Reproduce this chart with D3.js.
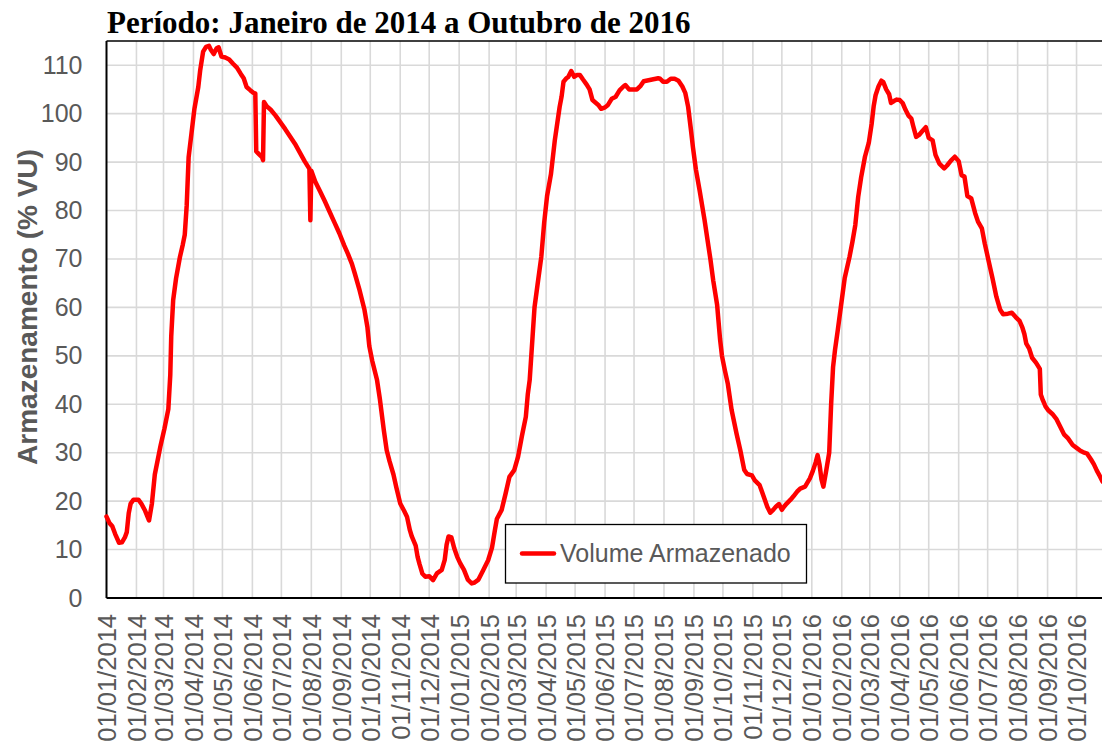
<!DOCTYPE html>
<html>
<head>
<meta charset="utf-8">
<script src="https://cdn.jsdelivr.net/npm/d3@7"></script>
<style>
  html, body { margin: 0; padding: 0; background: #ffffff; }
  svg { display: block; }
</style>
</head>
<body>
<svg id="chart" width="1102" height="745"></svg>
<script>
// ---- DATA ----
const titleText = "Período: Janeiro de 2014 a Outubro de 2016";
const yAxisTitle = "Armazenamento (% VU)";
const seriesName = "Volume Armazenado";

const dates = [
  "2014-01-01","2014-01-04","2014-01-07","2014-01-10","2014-01-14","2014-01-17","2014-01-20","2014-01-22","2014-01-24","2014-01-26",
  "2014-01-29","2014-02-03","2014-02-06","2014-02-10","2014-02-14","2014-02-17","2014-02-20","2014-02-23","2014-02-26","2014-03-02",
  "2014-03-06","2014-03-08","2014-03-09","2014-03-11","2014-03-14","2014-03-18","2014-03-21","2014-03-23","2014-03-25","2014-03-27",
  "2014-03-30","2014-04-02","2014-04-06","2014-04-08","2014-04-11","2014-04-14","2014-04-17","2014-04-19","2014-04-22","2014-04-25",
  "2014-04-27","2014-04-30","2014-05-04","2014-05-08","2014-05-12","2014-05-16","2014-05-20","2014-05-23","2014-05-26","2014-05-30",
  "2014-06-02","2014-06-04","2014-06-05","2014-06-08","2014-06-11","2014-06-12","2014-06-13","2014-06-16","2014-06-20","2014-06-25",
  "2014-06-30","2014-07-05","2014-07-10","2014-07-15","2014-07-20","2014-07-25","2014-07-30","2014-07-31","2014-08-01","2014-08-05",
  "2014-08-10","2014-08-15","2014-08-20","2014-08-25","2014-08-30","2014-09-04","2014-09-08","2014-09-12","2014-09-15","2014-09-20",
  "2014-09-25","2014-09-28","2014-09-30","2014-10-03","2014-10-08","2014-10-11","2014-10-15","2014-10-18","2014-10-21","2014-10-25",
  "2014-10-28","2014-11-01","2014-11-05","2014-11-08","2014-11-11","2014-11-13","2014-11-17","2014-11-19","2014-11-21","2014-11-24",
  "2014-11-27","2014-12-01","2014-12-05","2014-12-09","2014-12-14","2014-12-17","2014-12-19","2014-12-21","2014-12-24","2014-12-27",
  "2014-12-30","2015-01-02","2015-01-06","2015-01-10","2015-01-14","2015-01-17","2015-01-21","2015-01-26","2015-01-31","2015-02-04",
  "2015-02-07","2015-02-09","2015-02-14","2015-02-18","2015-02-22","2015-02-27","2015-03-03","2015-03-07","2015-03-11","2015-03-13",
  "2015-03-15","2015-03-18","2015-03-20","2015-03-23","2015-03-27","2015-03-30","2015-04-02","2015-04-06","2015-04-10","2015-04-15",
  "2015-04-17","2015-04-19","2015-04-22","2015-04-24","2015-04-27","2015-04-30","2015-05-03","2015-05-06","2015-05-09","2015-05-13",
  "2015-05-16","2015-05-19","2015-05-22","2015-05-25","2015-05-28","2015-06-01","2015-06-04","2015-06-08","2015-06-12","2015-06-16",
  "2015-06-20","2015-06-22","2015-06-26","2015-06-30","2015-07-04","2015-07-08","2015-07-11","2015-07-16","2015-07-21","2015-07-26",
  "2015-07-28","2015-07-31","2015-08-04","2015-08-08","2015-08-12","2015-08-16","2015-08-20","2015-08-23","2015-08-26","2015-08-29",
  "2015-08-31","2015-09-03","2015-09-07","2015-09-12","2015-09-15","2015-09-18","2015-09-21","2015-09-25","2015-09-28","2015-09-30",
  "2015-10-03","2015-10-06","2015-10-10","2015-10-15","2015-10-19","2015-10-23","2015-10-26","2015-10-31","2015-11-03","2015-11-08",
  "2015-11-13","2015-11-16","2015-11-19","2015-11-22","2015-11-25","2015-11-28","2015-12-01","2015-12-03","2015-12-06","2015-12-10",
  "2015-12-13","2015-12-17","2015-12-20","2015-12-25","2015-12-30","2016-01-02","2016-01-05","2016-01-07","2016-01-09","2016-01-11",
  "2016-01-13","2016-01-16","2016-01-19","2016-01-21","2016-01-23","2016-01-25","2016-01-28","2016-01-31","2016-02-04","2016-02-09",
  "2016-02-12","2016-02-15","2016-02-18","2016-02-21","2016-02-25","2016-02-29","2016-03-03","2016-03-05","2016-03-07","2016-03-10",
  "2016-03-13","2016-03-15","2016-03-18","2016-03-21","2016-03-23","2016-03-26","2016-03-29","2016-04-01","2016-04-04","2016-04-07",
  "2016-04-10","2016-04-13","2016-04-15","2016-04-18","2016-04-21","2016-04-24","2016-04-28","2016-05-01","2016-05-05","2016-05-08",
  "2016-05-12","2016-05-17","2016-05-20","2016-05-24","2016-05-28","2016-06-01","2016-06-04","2016-06-07","2016-06-10","2016-06-14",
  "2016-06-18","2016-06-21","2016-06-25","2016-06-28","2016-07-02","2016-07-06","2016-07-10","2016-07-14","2016-07-17","2016-07-22",
  "2016-07-26","2016-07-30","2016-08-03","2016-08-06","2016-08-08","2016-08-10","2016-08-13","2016-08-16","2016-08-20","2016-08-24",
  "2016-08-25","2016-08-27","2016-08-30","2016-09-02","2016-09-06","2016-09-10","2016-09-14","2016-09-18","2016-09-22","2016-09-27",
  "2016-10-01","2016-10-05","2016-10-09","2016-10-12","2016-10-16","2016-10-19","2016-10-22","2016-10-25","2016-10-28"
];

const volume = [
  16.8,15.5,14.8,13.2,11.4,11.5,12.5,13.6,17.5,19.5,
  20.3,20.3,19.5,18.0,16.0,19.5,25.5,28.5,31.5,35.0,
  39.0,46.0,54.0,61.5,66.0,70.4,73.0,75.0,81.0,91.0,
  96.0,101.0,105.5,109.0,112.8,113.8,114.0,113.2,112.3,113.5,
  113.7,111.8,111.6,111.2,110.3,109.5,108.2,107.3,105.5,104.8,
  104.3,104.2,92.2,91.6,91.0,90.4,102.4,101.5,100.8,99.6,
  98.2,96.8,95.3,93.8,92.0,90.2,88.6,78.0,88.2,86.0,
  84.0,81.9,79.7,77.5,75.3,72.8,71.0,69.0,67.0,63.5,
  59.5,56.0,52.0,49.0,45.0,41.0,34.7,30.5,28.2,25.5,
  22.8,19.5,18.0,16.8,14.0,12.7,10.8,8.5,7.0,5.0,
  4.4,4.5,3.7,5.1,5.8,7.8,11.0,12.7,12.5,10.2,
  8.5,7.2,5.8,3.8,3.0,3.2,3.8,5.8,7.8,10.4,
  14.0,16.3,18.2,21.5,25.0,26.4,29.2,33.5,37.4,42.0,
  45.0,54.0,60.0,64.5,70.4,77.5,83.0,87.5,94.5,101.4,
  103.5,106.6,107.3,107.6,108.8,107.6,108.0,108.0,107.1,106.0,
  105.0,102.8,102.3,101.8,101.0,101.3,101.8,103.1,103.5,104.8,
  105.6,105.9,105.0,105.0,105.0,105.8,106.7,106.9,107.1,107.3,
  107.2,106.6,106.6,107.2,107.2,106.8,105.6,104.3,101.4,96.5,
  93.0,88.5,84.0,78.0,74.0,70.0,65.5,60.5,53.5,50.0,
  47.0,44.3,38.8,34.0,30.5,26.5,25.6,25.3,24.3,23.3,
  20.5,18.8,17.6,18.2,18.9,19.4,18.2,18.8,19.5,20.3,
  21.0,22.0,22.6,23.0,24.7,26.2,28.0,29.5,27.5,24.5,
  23.0,26.4,30.0,40.0,47.7,51.2,55.5,60.0,66.0,70.4,
  73.5,77.0,82.8,86.8,91.1,94.0,98.0,101.5,103.8,105.6,
  106.8,106.5,105.0,104.0,102.2,102.6,102.9,102.8,102.2,100.8,
  99.6,99.0,97.4,95.2,95.6,96.3,97.2,95.0,94.5,91.5,
  89.7,88.7,89.3,90.3,91.1,90.2,87.3,87.0,83.0,82.5,
  79.5,77.7,76.3,73.2,69.6,66.0,62.2,59.5,58.6,58.7,
  58.9,58.0,57.2,55.8,54.5,52.5,51.5,49.6,48.6,47.3,
  42.0,40.9,39.5,38.7,38.0,37.0,35.4,33.8,33.0,31.6,
  31.0,30.4,30.0,29.8,28.6,27.6,26.3,25.2,24.0
];

const yTicks = [0, 10, 20, 30, 40, 50, 60, 70, 80, 90, 100, 110];
const xTickLabels = [
  "01/01/2014","01/02/2014","01/03/2014","01/04/2014","01/05/2014","01/06/2014","01/07/2014","01/08/2014","01/09/2014","01/10/2014","01/11/2014","01/12/2014",
  "01/01/2015","01/02/2015","01/03/2015","01/04/2015","01/05/2015","01/06/2015","01/07/2015","01/08/2015","01/09/2015","01/10/2015","01/11/2015","01/12/2015",
  "01/01/2016","01/02/2016","01/03/2016","01/04/2016","01/05/2016","01/06/2016","01/07/2016","01/08/2016","01/09/2016","01/10/2016"
];

// ---- CHART ----
const parseISO = d3.timeParse("%Y-%m-%d");
const parseLabel = d3.timeParse("%d/%m/%Y");
const data = dates.map((d, i) => ({ date: parseISO(d), value: volume[i] }));
const tickDates = xTickLabels.map(parseLabel);

const svg = d3.select("#chart");
const plot = { left: 106.5, right: 1106.5, top: 41, bottom: 598 };

const x = d3.scaleTime()
  .domain([parseISO("2014-01-01"), parseISO("2016-11-01")])
  .range([plot.left, plot.right]);
const y = d3.scaleLinear()
  .domain([0, 115])
  .range([plot.bottom, plot.top]);

const gray = "#595959";
const gridColor = "#d9d9d9";

// Grid
const grid = svg.append("g");
grid.selectAll("line.h").data(yTicks.filter(t => t > 0)).join("line")
  .attr("x1", plot.left).attr("x2", plot.right)
  .attr("y1", d => y(d)).attr("y2", d => y(d))
  .attr("stroke", gridColor).attr("stroke-width", 1.6);
grid.selectAll("line.v").data(tickDates.slice(1)).join("line")
  .attr("x1", d => x(d)).attr("x2", d => x(d))
  .attr("y1", plot.top).attr("y2", plot.bottom)
  .attr("stroke", gridColor).attr("stroke-width", 1.6);

// Border lines (top, left, bottom)
svg.append("line").attr("x1", plot.left).attr("x2", plot.right)
  .attr("y1", plot.top).attr("y2", plot.top).attr("stroke", "#000").attr("stroke-width", 1.5);

// Y axis
const yAxis = d3.axisLeft(y).tickValues(yTicks).tickSize(0).tickPadding(24);
const gy = svg.append("g").attr("transform", `translate(${plot.left},0)`).call(yAxis);
gy.select(".domain").attr("stroke", "#000").attr("stroke-width", 2)
  .attr("d", `M0,${plot.top}V${plot.bottom}`);
gy.selectAll("text")
  .attr("fill", gray)
  .style("font-family", "Arial, 'Liberation Sans', sans-serif")
  .style("font-size", "25px");

// X axis
const xAxis = d3.axisBottom(x).tickValues(tickDates)
  .tickFormat((d, i) => xTickLabels[i]).tickSize(0);
const gx = svg.append("g").attr("transform", `translate(0,${plot.bottom})`).call(xAxis);
gx.select(".domain").attr("stroke", "#000").attr("stroke-width", 2)
  .attr("d", `M${plot.left},0H${plot.right}`);
gx.selectAll("text")
  .attr("fill", gray)
  .style("font-family", "Arial, 'Liberation Sans', sans-serif")
  .style("font-size", "25.5px")
  .attr("text-anchor", "end")
  .attr("transform", "rotate(-90)")
  .attr("x", -16)
  .attr("y", 0)
  .attr("dy", "0.35em");

// Line
const line = d3.line().x(d => x(d.date)).y(d => y(d.value));
svg.append("path").datum(data)
  .attr("fill", "none")
  .attr("stroke", "#ff0000")
  .attr("stroke-width", 4.5)
  .attr("stroke-linejoin", "round")
  .attr("stroke-linecap", "round")
  .attr("d", line);

// Title
svg.append("text")
  .attr("x", 107).attr("y", 33)
  .attr("fill", "#000")
  .style("font-family", "'Times New Roman', 'Liberation Serif', serif")
  .style("font-weight", "bold")
  .style("font-size", "31px")
  .text(titleText);

// Y axis title
svg.append("text")
  .attr("transform", `translate(37,307) rotate(-90)`)
  .attr("text-anchor", "middle")
  .attr("fill", gray)
  .style("font-family", "Arial, 'Liberation Sans', sans-serif")
  .style("font-weight", "bold")
  .style("font-size", "28px")
  .text(yAxisTitle);

// Legend
const legend = svg.append("g");
legend.append("rect")
  .attr("x", 505.5).attr("y", 524.5).attr("width", 301).attr("height", 58.5)
  .attr("fill", "#fff").attr("stroke", "#000").attr("stroke-width", 1.3);
legend.append("line")
  .attr("x1", 522).attr("x2", 554).attr("y1", 553.5).attr("y2", 553.5)
  .attr("stroke", "#ff0000").attr("stroke-width", 4.5).attr("stroke-linecap", "round");
legend.append("text")
  .attr("x", 560).attr("y", 553.5).attr("dy", "0.35em")
  .attr("fill", gray)
  .style("font-family", "Arial, 'Liberation Sans', sans-serif")
  .style("font-size", "25px")
  .text(seriesName);
</script>
</body>
</html>
